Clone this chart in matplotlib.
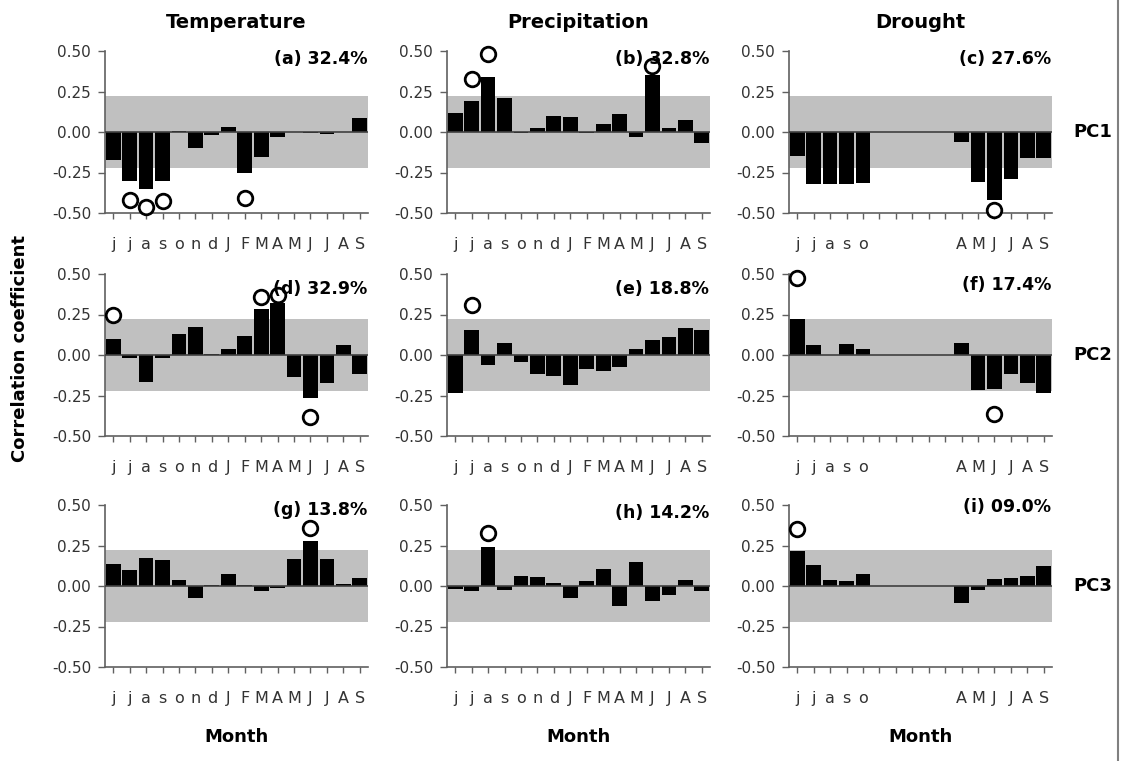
import numpy as np
import matplotlib
matplotlib.use('Agg')
import matplotlib.pyplot as plt

plt.rcParams['font.family'] = 'DejaVu Sans'
plt.rcParams['axes.unicode_minus'] = False

nan = np.nan

# meses (jun ano anterior .. set ano corrente)
meses = ['j', 'j', 'a', 's', 'o', 'n', 'd', 'J', 'F', 'M', 'A', 'M', 'J', 'J', 'A', 'S']
meses_seca = ['j', 'j', 'a', 's', 'o', '', '', '', '', '', 'A', 'M', 'J', 'J', 'A', 'S']

colunas = ['Temperature', 'Precipitation', 'Drought']
linhas = ['PC1', 'PC2', 'PC3']
rotulos = ['(a) 32.4%', '(b) 32.8%', '(c) 27.6%',
           '(d) 32.9%', '(e) 18.8%', '(f) 17.4%',
           '(g) 13.8%', '(h) 14.2%', '(i) 09.0%']

# correlacoes por painel
temp_pc1 = [-0.17, -0.30, -0.35, -0.30, 0.005, -0.10, -0.02, 0.03, -0.25, -0.155, -0.03, 0.003, -0.005, -0.015, 0.002, 0.085]
prec_pc1 = [0.115, 0.19, 0.34, 0.21, -0.005, 0.027, 0.10, 0.095, -0.005, 0.048, 0.113, -0.03, 0.35, 0.022, 0.075, -0.065]
seca_pc1 = [-0.15, -0.32, -0.32, -0.32, -0.315, nan, nan, nan, nan, nan, -0.06, -0.31, -0.42, -0.29, -0.16, -0.16]

temp_pc2 = [0.098, -0.02, -0.167, -0.02, 0.132, 0.175, 0.008, 0.037, 0.118, 0.285, 0.32, -0.136, -0.268, -0.175, 0.063, -0.116]
prec_pc2 = [-0.232, 0.155, -0.059, 0.073, -0.045, -0.12, -0.13, -0.185, -0.089, -0.10, -0.075, 0.037, 0.094, 0.11, 0.165, 0.155]
seca_pc2 = [0.222, 0.063, 0.003, 0.07, 0.039, nan, nan, nan, nan, nan, 0.073, -0.217, -0.207, -0.12, -0.175, -0.232]

temp_pc3 = [0.136, 0.10, 0.173, 0.16, 0.035, -0.077, 0.008, 0.071, 0.005, -0.03, -0.01, 0.167, 0.28, 0.167, 0.01, 0.049]
prec_pc3 = [-0.016, -0.03, 0.242, -0.022, 0.063, 0.055, 0.018, -0.071, 0.028, 0.106, -0.124, 0.146, -0.09, -0.057, 0.035, -0.03]
seca_pc3 = [0.217, 0.13, 0.035, 0.028, 0.071, nan, nan, nan, nan, nan, -0.108, -0.022, 0.045, 0.05, 0.059, 0.126]

# meses significativos (indice, posicao do circulo)
sig_temp_pc1 = [(1, -0.42), (2, -0.46), (3, -0.425), (8, -0.41)]
sig_prec_pc1 = [(1, 0.325), (2, 0.48), (12, 0.405)]
sig_seca_pc1 = [(12, -0.48)]
sig_temp_pc2 = [(0, 0.25), (9, 0.358), (10, 0.368), (12, -0.38)]
sig_prec_pc2 = [(1, 0.307)]
sig_seca_pc2 = [(0, 0.474), (12, -0.364)]
sig_temp_pc3 = [(12, 0.36)]
sig_prec_pc3 = [(2, 0.325)]
sig_seca_pc3 = [(0, 0.354)]

valores = [temp_pc1, prec_pc1, seca_pc1,
           temp_pc2, prec_pc2, seca_pc2,
           temp_pc3, prec_pc3, seca_pc3]
significativos = [sig_temp_pc1, sig_prec_pc1, sig_seca_pc1,
                  sig_temp_pc2, sig_prec_pc2, sig_seca_pc2,
                  sig_temp_pc3, sig_prec_pc3, sig_seca_pc3]
limiar = 0.225

fig = plt.figure(figsize=(11.23, 7.61), dpi=100)

lefts = [105 / 1123, 447 / 1123, 789 / 1123]
largura = 263 / 1123
bottoms = [1 - 213 / 761, 1 - 436 / 761, 1 - 667 / 761]
altura = 162 / 761
rotulo_y = [0.45, 0.45, 0.45, 0.41, 0.41, 0.43, 0.47, 0.45, 0.49]

x = np.arange(16)
for i in range(3):
    for j in range(3):
        k = i * 3 + j
        ax = fig.add_axes([lefts[j], bottoms[i], largura, altura])
        ax.axhspan(-limiar, limiar, color='#c0c0c0', lw=0, zorder=0)
        v = np.array(valores[k], dtype=float)
        ax.bar(x, np.nan_to_num(v), width=0.9, color='black', zorder=2)
        ax.axhline(0, color='#404040', lw=1.2, zorder=3)
        sx = [s[0] for s in significativos[k]]
        sy = [s[1] for s in significativos[k]]
        ax.plot(sx, sy, 'o', ms=10.5, mfc='white', mec='black', mew=2,
                zorder=5, clip_on=False)

        ax.set_xlim(-0.5, 15.5)
        ax.set_ylim(-0.5, 0.5)
        ax.set_yticks([0.5, 0.25, 0, -0.25, -0.5])
        ax.set_yticklabels(['0.50', '0.25', '0.00', '-0.25', '-0.50'], fontsize=11, color='#333333')
        ax.set_xticks(x)
        ax.set_xticklabels(meses_seca if j == 2 else meses, fontsize=11.5, color='#333333')
        ax.tick_params(axis='x', length=4, width=1, color='#606060', pad=13)
        ax.tick_params(axis='y', length=5, width=1, color='#606060', pad=5)
        for lado in ['top', 'right']:
            ax.spines[lado].set_visible(False)
        for lado in ['left', 'bottom']:
            ax.spines[lado].set_color('#606060')
            ax.spines[lado].set_linewidth(1.2)

        ax.text(15.45, rotulo_y[k], rotulos[k], ha='right', va='center',
                fontsize=12.5, fontweight='bold', zorder=6)

        if i == 0:
            fig.text(lefts[j] + largura / 2, 1 - 22 / 761, colunas[j], ha='center', va='center',
                     fontsize=14, fontweight='bold')
        if i == 2:
            fig.text(lefts[j] + largura / 2, 1 - 737 / 761, 'Month', ha='center', va='center',
                     fontsize=13, fontweight='bold')
        if j == 2:
            y0 = bottoms[i] + altura / 2
            fig.text(1073 / 1123, y0, linhas[i], ha='left', va='center',
                     fontsize=13, fontweight='bold')

fig.text(20 / 1123, 1 - 348 / 761, 'Correlation coefficient', rotation=90,
         ha='center', va='center', fontsize=13, fontweight='bold')

# linha vertical na borda direita
fig.add_artist(plt.Line2D([1118 / 1123, 1118 / 1123], [0, 1], color='#808080', lw=1.5))

fig.savefig('out.png', dpi=100)
